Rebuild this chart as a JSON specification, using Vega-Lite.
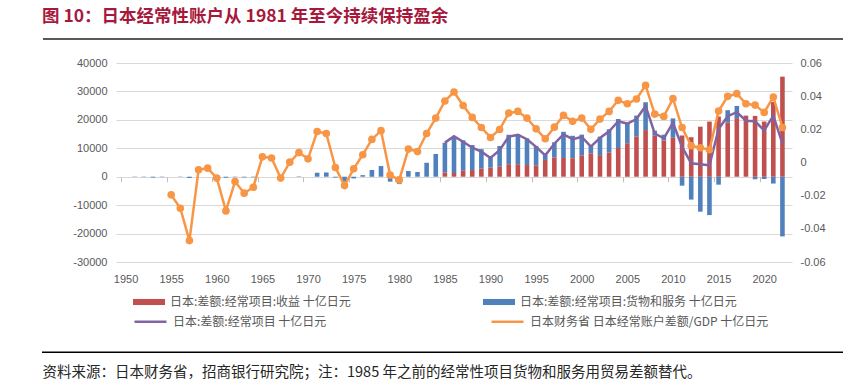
{
  "$schema": "https://vega.github.io/schema/vega-lite/v6.json",
  "width": 676,
  "height": 199,
  "autosize": {"type": "none"},
  "padding": {"left": 116, "top": 63, "right": 56, "bottom": 126},
  "background": "white",
  "config": {
    "view": {"stroke": null},
    "font": "Liberation Sans, Noto Sans CJK SC",
    "axis": {"labelFont": "Liberation Sans", "labelFontSize": 11, "labelColor": "#595959"},
    "legend": {"labelFont": "Noto Sans CJK SC", "labelFontSize": 12, "labelColor": "#595959"}
  },
  "title": {
    "text": "图 10：日本经常性账户从 1981 年至今持续保持盈余",
    "anchor": "start",
    "frame": "group",
    "dx": -74,
    "offset": 12,
    "font": "Noto Sans CJK SC",
    "fontSize": 17.5,
    "fontWeight": "bold",
    "color": "#a6193c"
  },
  "datasets": {
    "bars": [
      {"year": 1951, "series": "货物和服务", "value": -100},
      {"year": 1952, "series": "货物和服务", "value": -150},
      {"year": 1953, "series": "货物和服务", "value": -300},
      {"year": 1954, "series": "货物和服务", "value": -150},
      {"year": 1956, "series": "货物和服务", "value": -100},
      {"year": 1957, "series": "货物和服务", "value": -450},
      {"year": 1961, "series": "货物和服务", "value": -350},
      {"year": 1962, "series": "货物和服务", "value": -150},
      {"year": 1963, "series": "货物和服务", "value": -250},
      {"year": 1964, "series": "货物和服务", "value": -200},
      {"year": 1969, "series": "货物和服务", "value": 150},
      {"year": 1971, "series": "货物和服务", "value": 1400},
      {"year": 1972, "series": "货物和服务", "value": 1500},
      {"year": 1973, "series": "货物和服务", "value": -300},
      {"year": 1974, "series": "货物和服务", "value": -1750},
      {"year": 1975, "series": "货物和服务", "value": -600},
      {"year": 1976, "series": "货物和服务", "value": 550},
      {"year": 1977, "series": "货物和服务", "value": 2350},
      {"year": 1978, "series": "货物和服务", "value": 3750},
      {"year": 1979, "series": "货物和服务", "value": -1750},
      {"year": 1980, "series": "货物和服务", "value": -2600},
      {"year": 1981, "series": "货物和服务", "value": 2000},
      {"year": 1982, "series": "货物和服务", "value": 1650},
      {"year": 1983, "series": "货物和服务", "value": 4900},
      {"year": 1984, "series": "货物和服务", "value": 8000},
      {"year": 1985, "series": "货物和服务", "value": 10450},
      {"year": 1986, "series": "货物和服务", "value": 12600},
      {"year": 1987, "series": "货物和服务", "value": 10700},
      {"year": 1988, "series": "货物和服务", "value": 8800},
      {"year": 1989, "series": "货物和服务", "value": 6800},
      {"year": 1990, "series": "货物和服务", "value": 3500},
      {"year": 1991, "series": "货物和服务", "value": 7300},
      {"year": 1992, "series": "货物和服务", "value": 10350},
      {"year": 1993, "series": "货物和服务", "value": 10550},
      {"year": 1994, "series": "货物和服务", "value": 9400},
      {"year": 1995, "series": "货物和服务", "value": 6800},
      {"year": 1996, "series": "货物和服务", "value": 1900},
      {"year": 1997, "series": "货物和服务", "value": 5300},
      {"year": 1998, "series": "货物和服务", "value": 9200},
      {"year": 1999, "series": "货物和服务", "value": 7900},
      {"year": 2000, "series": "货物和服务", "value": 7300},
      {"year": 2001, "series": "货物和服务", "value": 2800},
      {"year": 2002, "series": "货物和服务", "value": 6500},
      {"year": 2003, "series": "货物和服务", "value": 8200},
      {"year": 2004, "series": "货物和服务", "value": 10200},
      {"year": 2005, "series": "货物和服务", "value": 7100},
      {"year": 2006, "series": "货物和服务", "value": 7400},
      {"year": 2007, "series": "货物和服务", "value": 9800},
      {"year": 2008, "series": "货物和服务", "value": 1800},
      {"year": 2009, "series": "货物和服务", "value": 2100},
      {"year": 2010, "series": "货物和服务", "value": 6800},
      {"year": 2011, "series": "货物和服务", "value": -3150},
      {"year": 2012, "series": "货物和服务", "value": -8050},
      {"year": 2013, "series": "货物和服务", "value": -12300},
      {"year": 2014, "series": "货物和服务", "value": -13500},
      {"year": 2015, "series": "货物和服务", "value": -2800},
      {"year": 2016, "series": "货物和服务", "value": 4400},
      {"year": 2017, "series": "货物和服务", "value": 4300},
      {"year": 2018, "series": "货物和服务", "value": 100},
      {"year": 2019, "series": "货物和服务", "value": -900},
      {"year": 2020, "series": "货物和服务", "value": -800},
      {"year": 2021, "series": "货物和服务", "value": -2400},
      {"year": 2022, "series": "货物和服务", "value": -21000},
      {"year": 1985, "series": "收益", "value": 1500},
      {"year": 1986, "series": "收益", "value": 1300},
      {"year": 1987, "series": "收益", "value": 2100},
      {"year": 1988, "series": "收益", "value": 2350},
      {"year": 1989, "series": "收益", "value": 2900},
      {"year": 1990, "series": "收益", "value": 3200},
      {"year": 1991, "series": "收益", "value": 3500},
      {"year": 1992, "series": "收益", "value": 4400},
      {"year": 1993, "series": "收益", "value": 4400},
      {"year": 1994, "series": "收益", "value": 4100},
      {"year": 1995, "series": "收益", "value": 4000},
      {"year": 1996, "series": "收益", "value": 5900},
      {"year": 1997, "series": "收益", "value": 6800},
      {"year": 1998, "series": "收益", "value": 6600},
      {"year": 1999, "series": "收益", "value": 6500},
      {"year": 2000, "series": "收益", "value": 7500},
      {"year": 2001, "series": "收益", "value": 8200},
      {"year": 2002, "series": "收益", "value": 7600},
      {"year": 2003, "series": "收益", "value": 8500},
      {"year": 2004, "series": "收益", "value": 10100},
      {"year": 2005, "series": "收益", "value": 11800},
      {"year": 2006, "series": "收益", "value": 14100},
      {"year": 2007, "series": "收益", "value": 16400},
      {"year": 2008, "series": "收益", "value": 14400},
      {"year": 2009, "series": "收益", "value": 12700},
      {"year": 2010, "series": "收益", "value": 13700},
      {"year": 2011, "series": "收益", "value": 14500},
      {"year": 2012, "series": "收益", "value": 13900},
      {"year": 2013, "series": "收益", "value": 17600},
      {"year": 2014, "series": "收益", "value": 19400},
      {"year": 2015, "series": "收益", "value": 21200},
      {"year": 2016, "series": "收益", "value": 19000},
      {"year": 2017, "series": "收益", "value": 20600},
      {"year": 2018, "series": "收益", "value": 21400},
      {"year": 2019, "series": "收益", "value": 21400},
      {"year": 2020, "series": "收益", "value": 19400},
      {"year": 2021, "series": "收益", "value": 26300},
      {"year": 2022, "series": "收益", "value": 35200}
    ],
    "ca": [
      {"year": 1985, "ca": 12000}, {"year": 1986, "ca": 14200}, {"year": 1987, "ca": 12300},
      {"year": 1988, "ca": 10200}, {"year": 1989, "ca": 8800}, {"year": 1990, "ca": 6600},
      {"year": 1991, "ca": 9300}, {"year": 1992, "ca": 14100}, {"year": 1993, "ca": 14700},
      {"year": 1994, "ca": 13200}, {"year": 1995, "ca": 10500}, {"year": 1996, "ca": 7500},
      {"year": 1997, "ca": 11600}, {"year": 1998, "ca": 14900}, {"year": 1999, "ca": 13200},
      {"year": 2000, "ca": 14000}, {"year": 2001, "ca": 10600}, {"year": 2002, "ca": 13600},
      {"year": 2003, "ca": 16000}, {"year": 2004, "ca": 19500}, {"year": 2005, "ca": 18700},
      {"year": 2006, "ca": 20300}, {"year": 2007, "ca": 24900}, {"year": 2008, "ca": 15200},
      {"year": 2009, "ca": 13500}, {"year": 2010, "ca": 19000}, {"year": 2011, "ca": 10500},
      {"year": 2012, "ca": 4700}, {"year": 2013, "ca": 4400}, {"year": 2014, "ca": 4000},
      {"year": 2015, "ca": 16800}, {"year": 2016, "ca": 21300}, {"year": 2017, "ca": 22700},
      {"year": 2018, "ca": 19700}, {"year": 2019, "ca": 19500}, {"year": 2020, "ca": 16300},
      {"year": 2021, "ca": 21500}, {"year": 2022, "ca": 11600}
    ],
    "ratio": [
      {"year": 1955, "ratio": -0.0195}, {"year": 1956, "ratio": -0.0276}, {"year": 1957, "ratio": -0.0471},
      {"year": 1958, "ratio": -0.0044}, {"year": 1959, "ratio": -0.0034}, {"year": 1960, "ratio": -0.0094},
      {"year": 1961, "ratio": -0.0292}, {"year": 1962, "ratio": -0.0115}, {"year": 1963, "ratio": -0.0185},
      {"year": 1964, "ratio": -0.0149}, {"year": 1965, "ratio": 0.0034}, {"year": 1966, "ratio": 0.0027},
      {"year": 1967, "ratio": -0.0094}, {"year": 1968, "ratio": 0.0002}, {"year": 1969, "ratio": 0.006},
      {"year": 1970, "ratio": 0.0022}, {"year": 1971, "ratio": 0.0187}, {"year": 1972, "ratio": 0.0175},
      {"year": 1973, "ratio": -0.003}, {"year": 1974, "ratio": -0.0139}, {"year": 1975, "ratio": -0.0038},
      {"year": 1976, "ratio": 0.0047}, {"year": 1977, "ratio": 0.0139}, {"year": 1978, "ratio": 0.0192},
      {"year": 1979, "ratio": -0.0076}, {"year": 1980, "ratio": -0.0105}, {"year": 1981, "ratio": 0.0081},
      {"year": 1982, "ratio": 0.0066}, {"year": 1983, "ratio": 0.0175}, {"year": 1984, "ratio": 0.0268},
      {"year": 1985, "ratio": 0.0371}, {"year": 1986, "ratio": 0.0425}, {"year": 1987, "ratio": 0.0344},
      {"year": 1988, "ratio": 0.0272}, {"year": 1989, "ratio": 0.0211}, {"year": 1990, "ratio": 0.0151},
      {"year": 1991, "ratio": 0.0199}, {"year": 1992, "ratio": 0.0298}, {"year": 1993, "ratio": 0.0308},
      {"year": 1994, "ratio": 0.0268}, {"year": 1995, "ratio": 0.0203}, {"year": 1996, "ratio": 0.0143},
      {"year": 1997, "ratio": 0.0213}, {"year": 1998, "ratio": 0.0284}, {"year": 1999, "ratio": 0.0248},
      {"year": 2000, "ratio": 0.0268}, {"year": 2001, "ratio": 0.02}, {"year": 2002, "ratio": 0.0262},
      {"year": 2003, "ratio": 0.0308}, {"year": 2004, "ratio": 0.0375}, {"year": 2005, "ratio": 0.0354},
      {"year": 2006, "ratio": 0.0383}, {"year": 2007, "ratio": 0.0465}, {"year": 2008, "ratio": 0.0292},
      {"year": 2009, "ratio": 0.0278}, {"year": 2010, "ratio": 0.0385}, {"year": 2011, "ratio": 0.0211},
      {"year": 2012, "ratio": 0.0101}, {"year": 2013, "ratio": 0.0089}, {"year": 2014, "ratio": 0.0077},
      {"year": 2015, "ratio": 0.031}, {"year": 2016, "ratio": 0.0399}, {"year": 2017, "ratio": 0.0415},
      {"year": 2018, "ratio": 0.0354}, {"year": 2019, "ratio": 0.0346}, {"year": 2020, "ratio": 0.0302},
      {"year": 2021, "ratio": 0.0395}, {"year": 2022, "ratio": 0.0211}
    ]
  },
  "layer": [
    {
      "data": {"name": "bars"},
      "mark": {"type": "bar", "width": 4.6},
      "encoding": {
        "x": {
          "field": "year",
          "type": "quantitative",
          "scale": {"domain": [1949.5, 2022.5], "nice": false, "zero": false},
          "axis": {
            "values": [1950, 1955, 1960, 1965, 1970, 1975, 1980, 1985, 1990, 1995, 2000, 2005, 2010, 2015, 2020],
            "labelExpr": "'' + datum.value",
            "ticks": false,
            "domain": false,
            "grid": false,
            "labelPadding": 11,
            "title": "资料来源：日本财务省，招商银行研究院；注：1985 年之前的经常性项目货物和服务用贸易差额替代。",
            "titleX": -74,
            "titleY": 110,
            "titleAlign": "left",
            "titleBaseline": "middle",
            "titleFont": "Noto Sans CJK SC",
            "titleFontSize": 14.5,
            "titleFontWeight": "normal",
            "titleColor": "#262626"
          }
        },
        "y": {
          "field": "value",
          "type": "quantitative",
          "stack": "zero",
          "scale": {"domain": [-30000, 40000], "nice": false, "zero": false},
          "axis": {
            "values": [-30000, -20000, -10000, 0, 10000, 20000, 30000, 40000],
            "labelExpr": "'' + datum.value",
            "ticks": false,
            "domain": false,
            "grid": true,
            "gridColor": "#d9d9d9",
            "labelPadding": 9,
            "title": null
          }
        },
        "color": {
          "field": "series",
          "type": "nominal",
          "scale": {"domain": ["收益", "货物和服务"], "range": ["#c0504d", "#4f81bd"]},
          "legend": {
            "orient": "none",
            "legendX": 17,
            "legendY": 223,
            "direction": "horizontal",
            "columns": 2,
            "title": null,
            "padding": 0,
            "symbolType": "M-1,-0.19H1V0.19H-1Z",
            "symbolSize": 1024,
            "symbolStrokeWidth": 0,
            "labelOffset": 5,
            "labelLimit": 400,
            "columnPadding": 132,
            "labelExpr": "datum.label == '收益' ? '日本:差额:经常项目:收益 十亿日元' : '日本:差额:经常项目:货物和服务 十亿日元'"
          }
        },
        "order": {"field": "series", "sort": "ascending"}
      }
    },
    {
      "data": {"name": "ca"},
      "mark": {"type": "line", "strokeWidth": 2.5},
      "encoding": {
        "x": {"field": "year", "type": "quantitative", "scale": {"domain": [1949.5, 2022.5], "nice": false, "zero": false}, "axis": null},
        "y": {"field": "ca", "type": "quantitative", "scale": {"domain": [-30000, 40000], "nice": false, "zero": false}, "axis": null},
        "stroke": {
          "datum": "日本:差额:经常项目 十亿日元",
          "type": "nominal",
          "scale": {"domain": ["日本:差额:经常项目 十亿日元", "日本财务省 日本经常账户差额/GDP 十亿日元"], "range": ["#8064a2", "#f79646"]},
          "legend": {
            "orient": "none",
            "legendX": 17,
            "legendY": 241,
            "direction": "horizontal",
            "columns": 2,
            "title": null,
            "padding": 0,
            "symbolType": "stroke",
            "symbolSize": 1024,
            "symbolStrokeWidth": 2.5,
            "labelOffset": 5,
            "labelLimit": 400,
            "columnPadding": 159
          }
        }
      }
    },
    {
      "data": {"name": "ratio"},
      "mark": {"type": "line", "strokeWidth": 2.5, "point": {"filled": true, "size": 32, "fill": "#f79646"}},
      "encoding": {
        "x": {
          "field": "year",
          "type": "quantitative",
          "scale": {"domain": [1949.5, 2022.5], "nice": false, "zero": false},
          "axis": {
            "orient": "bottom",
            "offset": -85.3,
            "values": [1949.5, 1954.5, 1959.5, 1964.5, 1969.5, 1974.5, 1979.5, 1984.5, 1989.5, 1994.5, 1999.5, 2004.5, 2009.5, 2014.5, 2019.5],
            "labels": false,
            "ticks": true,
            "tickSize": 5,
            "tickColor": "#bfbfbf",
            "domain": false,
            "grid": false,
            "title": null
          }
        },
        "y": {
          "field": "ratio",
          "type": "quantitative",
          "scale": {"domain": [-0.06, 0.06], "nice": false, "zero": false},
          "axis": {
            "orient": "right",
            "values": [-0.06, -0.04, -0.02, 0, 0.02, 0.04, 0.06],
            "labelExpr": "'' + datum.value",
            "ticks": false,
            "domain": false,
            "grid": false,
            "labelPadding": 8,
            "title": null
          }
        },
        "stroke": {
          "datum": "日本财务省 日本经常账户差额/GDP 十亿日元",
          "type": "nominal",
          "scale": {"domain": ["日本:差额:经常项目 十亿日元", "日本财务省 日本经常账户差额/GDP 十亿日元"], "range": ["#8064a2", "#f79646"]}
        }
      }
    },
    {
      "data": {"values": [{}]},
      "mark": {"type": "rule", "color": "#595959", "strokeWidth": 2, "xOffset": -78, "x2Offset": 56},
      "encoding": {
        "x": {"datum": 1949.5, "type": "quantitative", "axis": null},
        "x2": {"datum": 2022.5},
        "y": {"datum": 48480, "type": "quantitative", "scale": {"domain": [-30000, 40000], "nice": false, "zero": false}, "axis": null}
      }
    },
    {
      "data": {"values": [{}]},
      "mark": {"type": "rule", "color": "#000000", "strokeWidth": 1.5, "xOffset": -79, "x2Offset": 56},
      "encoding": {
        "x": {"datum": 1949.5, "type": "quantitative", "axis": null},
        "x2": {"datum": 2022.5},
        "y": {"datum": -61720, "type": "quantitative", "scale": {"domain": [-30000, 40000], "nice": false, "zero": false}, "axis": null}
      }
    }
  ],
  "resolve": {"scale": {"y": "independent"}, "axis": {"x": "independent"}}
}
